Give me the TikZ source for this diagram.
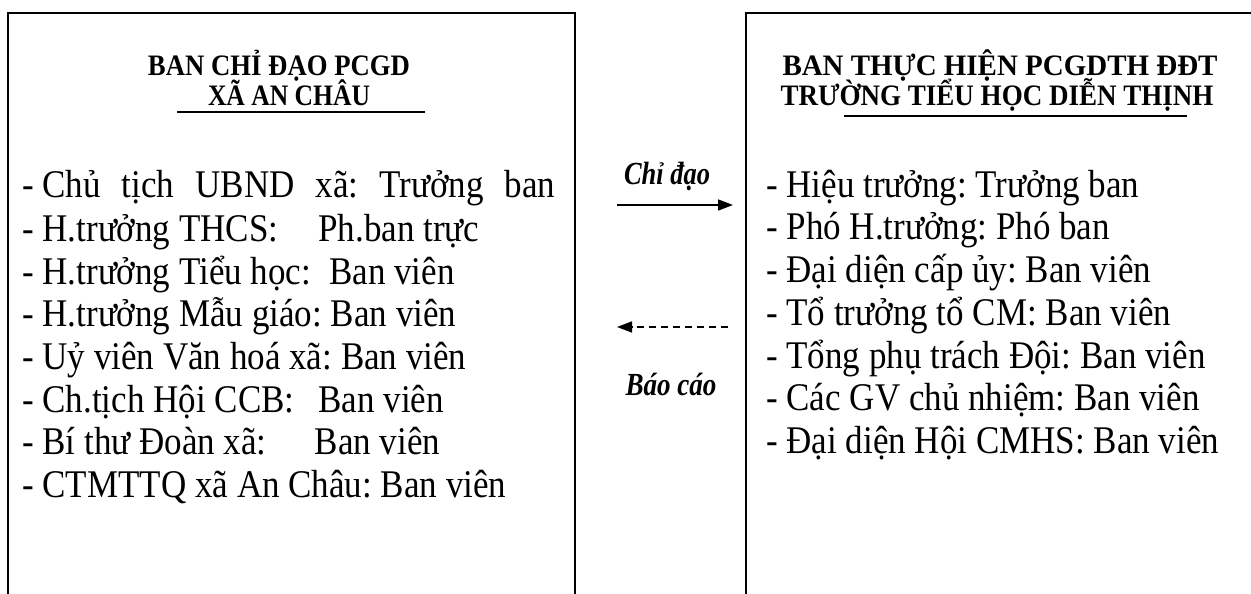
\documentclass[tikz,border=0pt]{standalone}
\usepackage{fontspec}
\setmainfont{Liberation Serif}
\usepackage{graphicx}
\usetikzlibrary{arrows.meta}
\newcommand{\fitbody}[2]{\scalebox{1}[1.12]{\makebox[#1][s]{#2}}}
\newcommand{\natbody}[1]{\scalebox{1}[1.12]{#1}}
\newcommand{\fitlab}[2]{\resizebox{#1}{1.15\height}{#2}}
\newcommand{\fithead}[2]{\resizebox{#1}{0.9\height}{#2}}
\newcommand{\dsh}{-\hspace{0.25em}}
\frenchspacing
\begin{document}
\begin{tikzpicture}[x=1pt,y=-1pt,
  box/.style={draw=black,line width=1.8pt},
  head/.style={font=\fontsize{33}{33}\selectfont\bfseries,inner sep=0pt,anchor=base},
  item/.style={font=\fontsize{35}{35}\selectfont,inner sep=0pt,anchor=base west},
  lab/.style={font=\fontsize{28}{28}\selectfont\bfseries\itshape,inner sep=0pt,anchor=base},
  arr/.style={line width=1.6pt,-{Triangle[length=15pt,width=11pt]}}]
\useasboundingbox (0,0) rectangle (1251,594);
\clip (0,0) rectangle (1251,594);
% boxes
\draw[box] (8,13) -- (575,13) -- (575,640) -- (8,640) -- cycle;
\draw[box] (746,13) -- (1270,13) -- (1270,640) -- (746,640) -- cycle;
% headings left
\node[head] (lh1) at (279,76) {\fithead{262pt}{BAN CHỈ ĐẠO PCGD}};
\node[head] (lh2) at (289,106) {\fithead{162pt}{XÃ AN CHÂU}};
\draw[line width=2pt] (177,111.5) -- (425,111.5);
% headings right
\node[head] (rh1) at (1000,76) {\fithead{435pt}{BAN THỰC HIỆN PCGDTH ĐĐT}};
\node[head] (rh2) at (997,106) {\fithead{433pt}{TRƯỜNG TIỂU HỌC DIỄN THỊNH}};
\draw[line width=2pt] (844,116) -- (1187,116);
% left items
\node[item] (l1) at (22,197) {\fitbody{533pt}{\dsh Chủ tịch UBND xã: Trưởng ban}};
\node[item] (l2) at (22,241) {\natbody{\dsh H.trưởng THCS:\hspace{40pt}Ph.ban trực}};
\node[item] (l3) at (22,284) {\natbody{\dsh H.trưởng Tiểu học:\hspace{18pt}Ban viên}};
\node[item] (l4) at (22,326) {\natbody{\dsh H.trưởng Mẫu giáo: Ban viên}};
\node[item] (l5) at (22,369) {\natbody{\dsh Uỷ viên Văn hoá xã: Ban viên}};
\node[item] (l6) at (22,412) {\natbody{\dsh Ch.tịch Hội CCB:\hspace{24pt}Ban viên}};
\node[item] (l7) at (22,454) {\natbody{\dsh Bí thư Đoàn xã:\hspace{48pt}Ban viên}};
\node[item] (l8) at (22,497) {\natbody{\dsh CTMTTQ xã An Châu: Ban viên}};
% right items
\node[item] (r1) at (766,197) {\natbody{\dsh Hiệu trưởng: Trưởng ban}};
\node[item] (r2) at (766,239) {\natbody{\dsh Phó H.trưởng: Phó ban}};
\node[item] (r3) at (766,282) {\natbody{\dsh Đại diện cấp ủy: Ban viên}};
\node[item] (r4) at (766,325) {\natbody{\dsh Tổ trưởng tổ CM: Ban viên}};
\node[item] (r5) at (766,368) {\natbody{\dsh Tổng phụ trách Đội: Ban viên}};
\node[item] (r6) at (766,410) {\natbody{\dsh Các GV chủ nhiệm: Ban viên}};
\node[item] (r7) at (766,453) {\natbody{\dsh Đại diện Hội CMHS: Ban viên}};
% labels and arrows
\node[lab] (chi) at (667,184) {\fitlab{86pt}{Chỉ đạo}};
\node[lab] (bao) at (671,395) {\fitlab{91pt}{Báo cáo}};
\coordinate (a1s) at (617,205);
\coordinate (a1e) at (733,205);
\coordinate (a2s) at (728,327);
\coordinate (a2e) at (617,327);
\draw[arr] (a1s) -- (a1e);
\draw[arr,dash pattern=on 7pt off 5pt] (a2s) -- (a2e);
\end{tikzpicture}
\end{document}
